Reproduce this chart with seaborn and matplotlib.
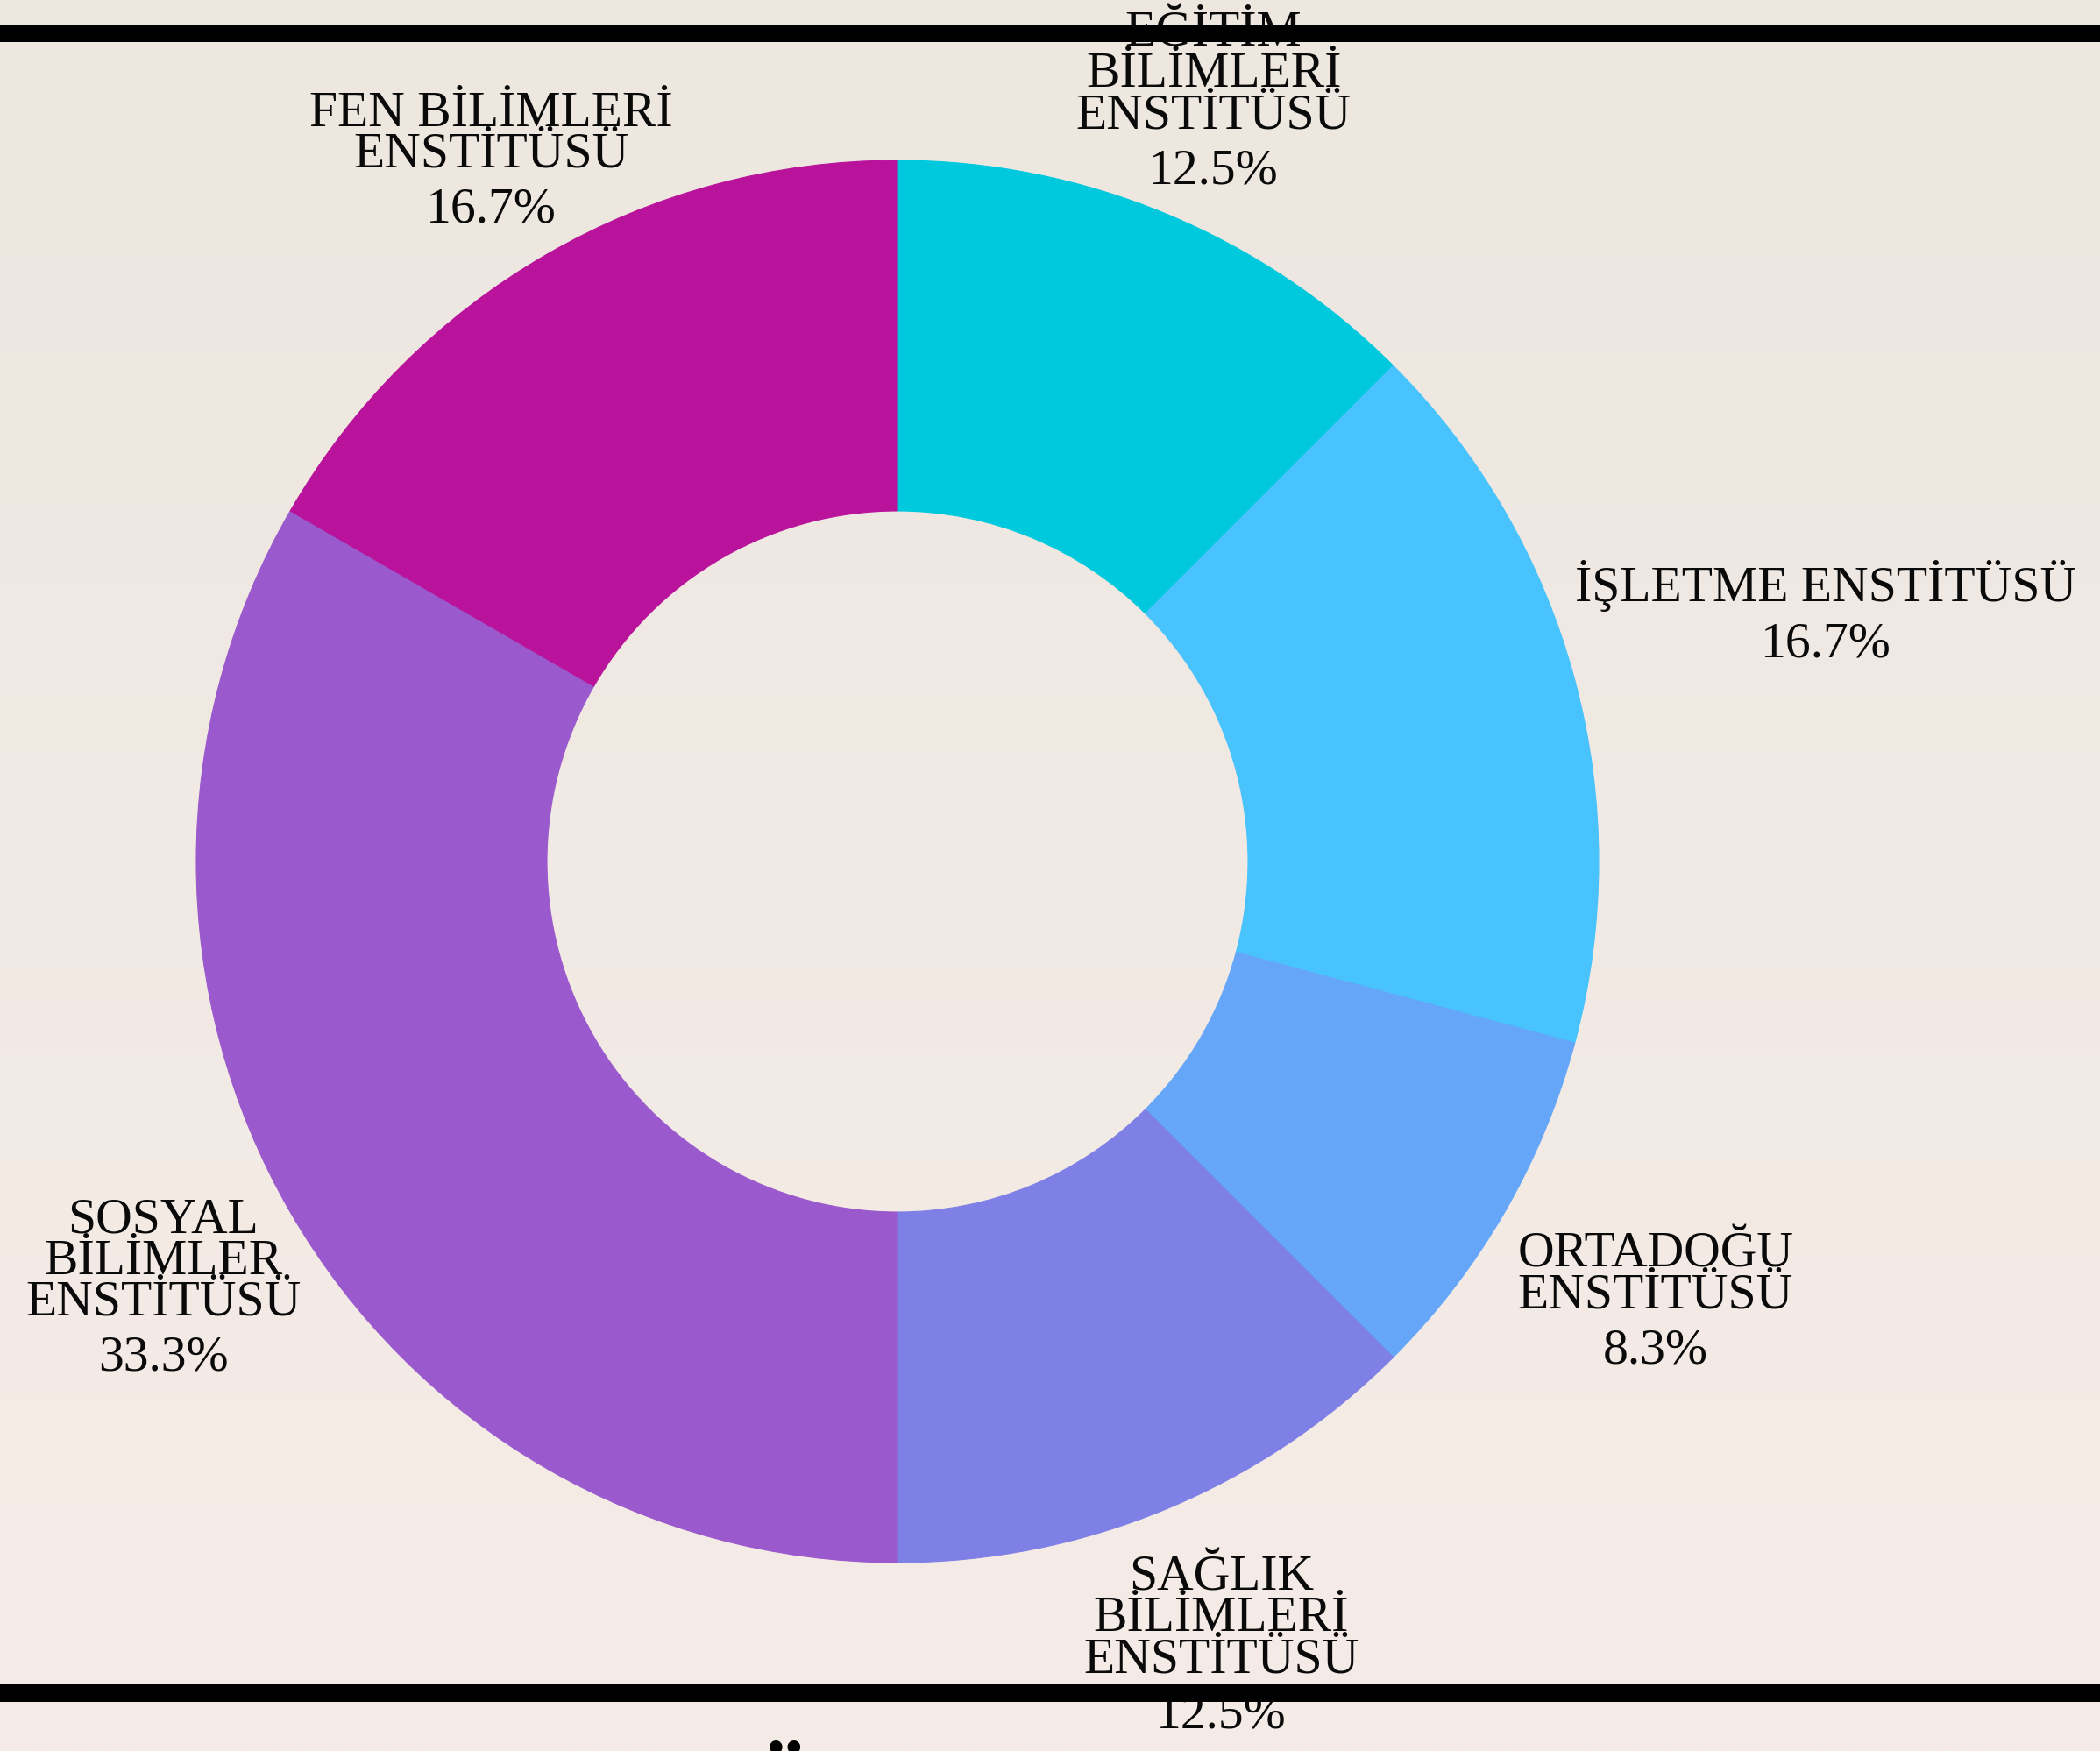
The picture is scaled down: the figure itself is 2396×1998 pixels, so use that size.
import numpy as np
import matplotlib
matplotlib.use("Agg")
import matplotlib.pyplot as plt
import seaborn as sns

# Graduate institutes and number of entries per institute
institutes = [
    "EĞİTİM\nBİLİMLERİ\nENSTİTÜSÜ",
    "İŞLETME ENSTİTÜSÜ",
    "ORTADOĞU\nENSTİTÜSÜ",
    "SAĞLIK\nBİLİMLERİ\nENSTİTÜSÜ",
    "SOSYAL\nBİLİMLER\nENSTİTÜSÜ",
    "FEN BİLİMLERİ\nENSTİTÜSÜ",
]
counts = [3, 4, 2, 3, 8, 4]
slice_colors = ["#00C9DD", "#48C3FD", "#65A6F9", "#7E80E6", "#9A59CC", "#B9139C"]

# distance of each label block centre from the ring centre (ring radius = 1)
label_radius = [1.178, 1.371, 1.248, 1.206, 1.209, 1.159]

W, H, DPI = 2396, 1998, 100
PX = 800.0            # pixels per data unit (outer radius)
CX, CY = 1024, 983    # ring centre in pixels

sns.set_theme(style="white")
plt.rcParams["font.family"] = ["Liberation Serif", "DejaVu Serif"]
palette = sns.color_palette(slice_colors)

fig = plt.figure(figsize=(W / DPI, H / DPI), dpi=DPI, facecolor="#F1E9E3")
ax = fig.add_axes([0, 0, 1, 1])
ax.set_facecolor("none")

xlim = (-CX / PX, (W - CX) / PX)
ylim = (-(H - CY) / PX, CY / PX)

# paper-toned backdrop, slightly warmer towards the bottom
top = np.array([237, 231, 224]) / 255
bot = np.array([246, 236, 231]) / 255
t = np.linspace(0, 1, 256)[:, None]
grad = (top[None, :] * (1 - t) + bot[None, :] * t)[:, None, :]
ax.imshow(grad, extent=(xlim[0], xlim[1], ylim[0], ylim[1]),
          aspect="auto", zorder=0, interpolation="bilinear")

wedges, _ = ax.pie(counts, startangle=90, counterclock=False, colors=palette,
                   radius=1.0, wedgeprops=dict(width=0.5, linewidth=0.8))
for w in wedges:
    w.set_edgecolor(w.get_facecolor())

ax.set_xlim(*xlim)
ax.set_ylim(*ylim)
ax.set_aspect("equal")
ax.axis("off")

# outside labels: name lines + percentage
total = sum(counts)
FS = 41.5
NAME_PITCH = 47 / PX
PCT_GAP = 63 / PX
CAP = 37 / PX
cum = 0
for name, v, r in zip(institutes, counts, label_radius):
    mid = np.deg2rad(90 - 360 * (cum + v / 2) / total)
    cum += v
    lines = name.split("\n")
    n = len(lines)
    height = CAP + PCT_GAP + NAME_PITCH * (n - 1)
    bx, by = r * np.cos(mid), r * np.sin(mid)
    pct_base = by - height / 2
    ax.text(bx, pct_base, f"{100 * v / total:.1f}%", ha="center", va="baseline",
            fontsize=FS, color="#0A0A0A", zorder=5)
    for i, line in enumerate(reversed(lines)):
        ax.text(bx, pct_base + PCT_GAP + i * NAME_PITCH, line, ha="center",
                va="baseline", fontsize=FS, color="#0A0A0A", zorder=5)

# heavy rules across the page
lw = 20 * 72 / DPI
ax.axhline((CY - 38) / PX, color="black", lw=lw, solid_capstyle="butt", zorder=10)
ax.axhline((CY - 1932) / PX, color="black", lw=lw, solid_capstyle="butt", zorder=10)

# caption below the lower rule (runs off the page edge)
ax.text((892 - CX) / PX, (CY - 2003) / PX, "Ü", ha="center", va="top",
        fontsize=90, fontweight="bold", color="black", zorder=6)

fig.savefig("out.png", dpi=DPI, facecolor=fig.get_facecolor())
